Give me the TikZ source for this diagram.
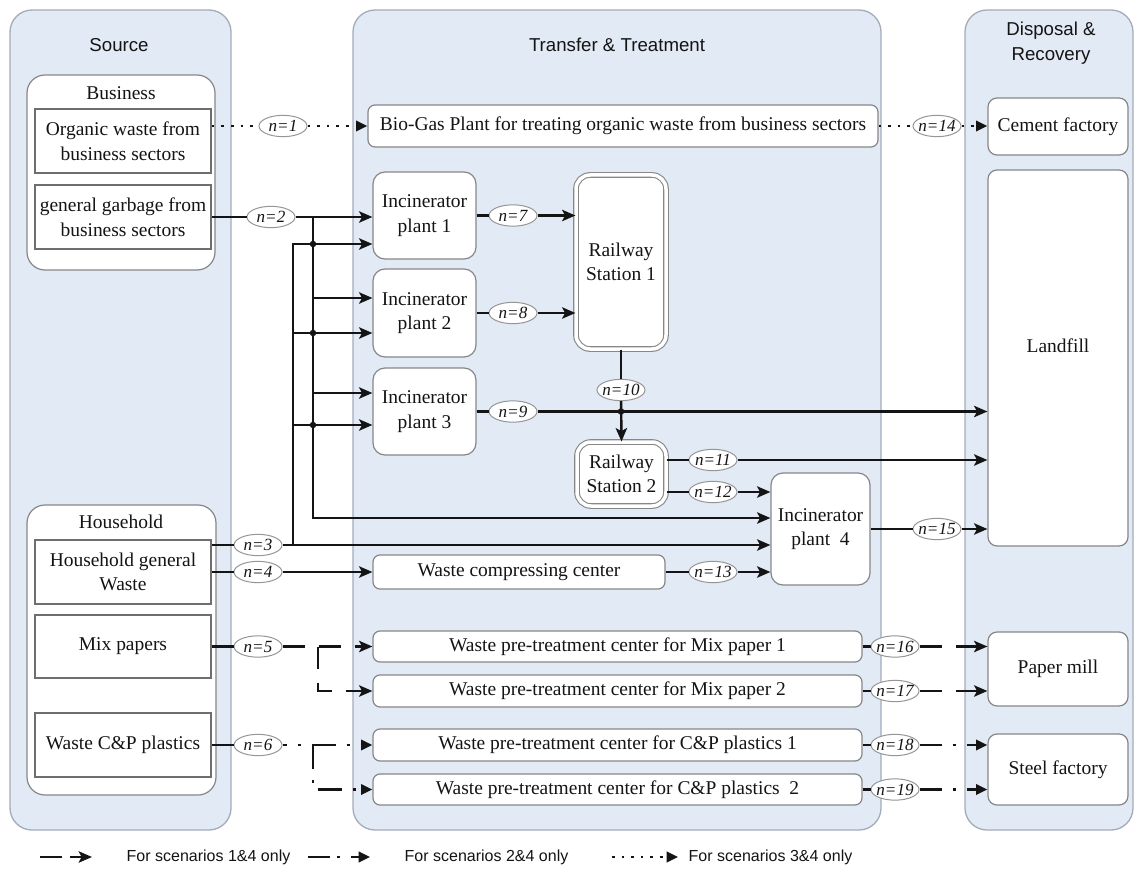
\documentclass[tikz,border=0pt]{standalone}
\usepackage{fontspec}
\setmainfont{Liberation Serif}
\setsansfont{Liberation Sans}
\usetikzlibrary{arrows.meta,shapes.geometric}
\definecolor{panelfill}{RGB}{226,234,246}
\definecolor{panelline}{RGB}{165,172,185}
\definecolor{boxline}{RGB}{135,135,135}
\definecolor{srcline}{RGB}{110,110,110}
\definecolor{tagline}{RGB}{150,150,150}
\definecolor{ink}{RGB}{20,20,20}

\begin{document}
\begin{tikzpicture}[x=0.75pt,y=-0.75pt,
  every node/.style={text=ink},
  % box given by its corners {x1}{y1}{x2}{y2}
  span/.code n args={4}{%
    \pgfmathsetmacro\spanw{(#3-#1)*0.75}%
    \pgfmathsetmacro\spanh{(#4-#2)*0.75}%
    \pgfmathsetmacro\spanx{(#1+#3)/2}%
    \pgfmathsetmacro\spany{(#2+#4)/2}%
    \edef\spanargs{minimum width=\spanw pt, minimum height=\spanh pt, at={(\spanx,\spany)}}%
    \expandafter\tikzset\expandafter{\spanargs}},
  panel/.style={draw=panelline, fill=panelfill, rounded corners=16.5pt, line width=0.975pt, inner sep=0},
  heading/.style={font=\sffamily\fontsize{14pt}{18.75pt}\selectfont, align=center},
  group/.style={draw=boxline, fill=white, rounded corners=13.5pt, line width=0.9pt, inner sep=0},
  grouptitle/.style={font=\fontsize{14.6pt}{18.4pt}\selectfont},
  srcbox/.style={draw=srcline, fill=white, line width=1.2pt, inner sep=0, align=center,
    font=\fontsize{14.6pt}{18.4pt}\selectfont},
  plant/.style={draw=boxline, fill=white, rounded corners=9pt, line width=0.9pt, inner sep=0,
    align=center, font=\fontsize{14.6pt}{18.4pt}\selectfont},
  bar/.style={plant, rounded corners=5.25pt},
  station/.style={plant, double=white, double distance=2.625pt, line width=0.825pt, rounded corners=10.5pt},
  tag/.style={ellipse, draw=tagline, fill=white, line width=0.75pt, inner xsep=-1.5pt, inner ysep=0pt,
    minimum width=36pt, minimum height=16pt, font=\fontsize{12.8pt}{13pt}\selectfont\itshape},
  legendtext/.style={font=\sffamily\fontsize{12pt}{14pt}\selectfont, anchor=west},
  flow/.style={draw=ink, line width=1.8pt},
  tip/.style={-{Stealth[length=10pt,width=8.5pt,inset=2.25pt]}},
  tri/.style={-{Triangle[length=8.5pt,width=7.8pt]}},
  dashA/.style={dash pattern=on 16.5pt off 10.5pt},
  dashB/.style={dash pattern=on 18pt off 8.25pt on 2.25pt off 8.25pt},
  dotC/.style={dash pattern=on 1.95pt off 5.25pt},
  joint/.style={circle, fill=ink, inner sep=0pt, minimum size=4.875pt},
]
\fill[white] (0,0) rectangle (1143,870);
\useasboundingbox (0,0) rectangle (1143,870);

% ---------- three columns ----------
\node[panel, span={10}{10}{231}{830}] (source) {};
\node[panel, span={353}{10}{881}{830}] (transfer) {};
\node[panel, span={965}{10}{1133}{830}] (disposal) {};
\node[heading] (hsource) at (119,45) {Source};
\node[heading] (htransfer) at (617,45) {Transfer \& Treatment};
\node[heading] (hdisposal) at (1051,43) {Disposal \&\\Recovery};

% ---------- sources ----------
\node[group, span={27}{75}{215}{270}] (business) {};
\node[grouptitle] (tbusiness) at (121,93) {Business};
\node[srcbox, span={35}{109}{211}{173}] (organic) {Organic waste from\\business sectors};
\node[srcbox, span={35}{185}{211}{249}] (garbage) {general garbage from\\business sectors};

\node[group, span={27}{505}{216}{795}] (household) {};
\node[grouptitle] (thousehold) at (121,522) {Household};
\node[srcbox, span={35}{540}{211}{604}] (hgw) {Household general\\Waste};
\node[srcbox, span={35}{615}{211}{678}] (mix) {Mix papers};
\node[srcbox, span={35}{713}{211}{777}] (cp) {Waste C\&P plastics};

% ---------- transfer & treatment ----------
\node[bar, span={368}{105}{878}{147}] (biogas) {Bio-Gas Plant for treating organic waste from business sectors};
\node[plant, span={373}{172}{476}{259}] (inc1) {Incinerator\\plant 1};
\node[plant, span={373}{269}{476}{357}] (inc2) {Incinerator\\plant 2};
\node[plant, span={373}{368}{476}{455}] (inc3) {Incinerator\\plant 3};
\node[station, span={576}{175}{666}{349}] (rs1) {Railway\\Station 1};
\node[station, span={577}{442}{666}{506}] (rs2) {Railway\\Station 2};
\node[plant, span={771}{473}{870}{585}] (inc4) {Incinerator\\plant~ 4};
\node[bar, span={373}{555}{665}{589}] (compress) {Waste compressing center};
\node[bar, span={373}{631}{862}{662}] (mp1) {Waste pre-treatment center for Mix paper 1};
\node[bar, span={373}{675}{862}{707}] (mp2) {Waste pre-treatment center for Mix paper 2};
\node[bar, span={373}{729}{862}{761}] (cp1) {Waste pre-treatment center for C\&P plastics 1};
\node[bar, span={373}{774}{862}{805}] (cp2) {Waste pre-treatment center for C\&P plastics~ 2};

% ---------- disposal & recovery ----------
\node[plant, rounded corners=6.75pt, span={988}{98}{1128}{155}] (cement) {Cement factory};
\node[plant, rounded corners=6.75pt, span={988}{170}{1128}{546}] (landfill) {};
\node[font=\fontsize{14.6pt}{18.4pt}\selectfont] (tlandfill) at (1058,346) {Landfill};
\node[plant, rounded corners=6.75pt, span={988}{632}{1128}{706}] (paper) {Paper mill};
\node[plant, rounded corners=6.75pt, span={988}{734}{1128}{805}] (steel) {Steel factory};

% ---------- flow tags ----------
\node[tag] (l1) at (283,126) {n=1};
\node[tag] (l2) at (271,217) {n=2};
\node[tag] (l3) at (258,545) {n=3};
\node[tag] (l4) at (258,572) {n=4};
\node[tag] (l5) at (258,646.5) {n=5};
\node[tag] (l6) at (258,745) {n=6};
\node[tag] (l7) at (513,215.5) {n=7};
\node[tag] (l8) at (513,313) {n=8};
\node[tag] (l9) at (513,411.5) {n=9};
\node[tag] (l10) at (621,390) {n=10};
\node[tag] (l11) at (713,460) {n=11};
\node[tag] (l12) at (713,492) {n=12};
\node[tag] (l13) at (713,572) {n=13};
\node[tag] (l14) at (937,126) {n=14};
\node[tag] (l15) at (937,529) {n=15};
\node[tag] (l16) at (895,646.5) {n=16};
\node[tag] (l17) at (895,691) {n=17};
\node[tag] (l18) at (895,745) {n=18};
\node[tag] (l19) at (895,789.5) {n=19};

% ---------- routing points ----------
\coordinate (k2top) at (313,217);
\coordinate (k2bot) at (313,518);
\coordinate (k3top) at (293,244);
\coordinate (k3bot) at (293,545);
\coordinate (r2b) at (0,298);
\coordinate (r3b) at (0,393);
\coordinate (r2c) at (0,333);
\coordinate (r3c) at (0,425);
\coordinate (k5) at (318,646.5);
\coordinate (k6) at (313,745);

% ---------- organic waste (scenarios 3&4) ----------
\draw[flow,dotC] (organic.east |- biogas.west) -- (l1);
\draw[flow,dotC,tri] (l1) -- (biogas.west);
\draw[flow,dotC] (biogas.east) -- (l14);
\draw[flow,dotC,tri] (l14) -- (cement.west |- l14);

% ---------- general garbage ----------
\draw[flow] (garbage.east |- l2) -- (l2);
\draw[flow,tip] (l2) -- (inc1.west |- l2);
\draw[flow,tip] (k2top) -- (k2bot) -- (inc4.west |- k2bot);
\draw[flow,tip] (k2top |- r2b) -- (inc2.west |- r2b);
\draw[flow,tip] (k2top |- r3b) -- (inc3.west |- r3b);

% ---------- household general waste ----------
\draw[flow] (hgw.east |- l3) -- (l3);
\draw[flow,tip] (l3) -- (inc4.west |- l3);
\draw[flow,tip] (k3bot) -- (k3top) -- (inc1.west |- k3top);
\draw[flow,tip] (k3top |- r2c) -- (inc2.west |- r2c);
\draw[flow,tip] (k3top |- r3c) -- (inc3.west |- r3c);
\node[joint] (j1) at (k2top |- k3top) {};
\node[joint] (j2) at (k2top |- r2c) {};
\node[joint] (j3) at (k2top |- r3c) {};

\draw[flow] (hgw.east |- l4) -- (l4);
\draw[flow,tip] (l4) -- (compress.west |- l4);

% ---------- mix papers (scenarios 1&4) ----------
\draw[flow] (mix.east |- l5) -- (l5);
\draw[flow,dashA,tip] (l5) -- (mp1.west |- l5);
\draw[flow,dashA,tip] (k5) -- (k5 |- mp2.west) -- (mp2.west);

% ---------- C&P plastics (scenarios 2&4) ----------
\draw[flow] (cp.east |- l6) -- (l6);
\draw[flow,dashB,dash phase=15pt,tri] (l6) -- (cp1.west |- l6);
\draw[flow,dashB,tri] (k6) -- (k6 |- cp2.west) -- (cp2.west);

% ---------- incinerators and stations ----------
\draw[flow] (inc1.east |- l7) -- (l7);
\draw[flow,tip] (l7) -- (rs1.west |- l7);
\draw[flow] (inc2.east |- l8) -- (l8);
\draw[flow,tip] (l8) -- (rs1.west |- l8);
\draw[flow] (inc3.east |- l9) -- (l9);
\draw[flow,tip] (l9) -- (landfill.west |- l9);
\draw[flow] (rs1.south) -- (l10);
\draw[flow,tip] (l10) -- (rs2.north);
\node[joint] (j4) at (rs1.south |- l9) {};
\draw[flow] (rs2.east |- l11) -- (l11);
\draw[flow,tip] (l11) -- (landfill.west |- l11);
\draw[flow] (rs2.east |- l12) -- (l12);
\draw[flow,tip] (l12) -- (inc4.west |- l12);
\draw[flow] (compress.east |- l13) -- (l13);
\draw[flow,tip] (l13) -- (inc4.west |- l13);
\draw[flow] (inc4.east |- l15) -- (l15);
\draw[flow,tip] (l15) -- (landfill.west |- l15);

% ---------- recovery ----------
\draw[flow] (mp1.east |- l16) -- (l16);
\draw[flow,dashA,tip] (l16) -- (paper.west |- l16);
\draw[flow] (mp2.east |- l17) -- (l17);
\draw[flow,dashA,tip] (l17) -- (paper.west |- l17);
\draw[flow] (cp1.east |- l18) -- (l18);
\draw[flow,dashB,dash phase=1.5pt,tri] (l18) -- (steel.west |- l18);
\draw[flow] (cp2.east |- l19) -- (l19);
\draw[flow,dashB,dash phase=1.5pt,tri] (l19) -- (steel.west |- l19);

% ---------- legend ----------
\coordinate (a1) at (40,857);
\coordinate (a2) at (62,857);
\coordinate (a3) at (70,857);
\coordinate (a4) at (92,857);
\draw[flow] (a1) -- (a2);
\draw[flow,tip] (a3) -- (a4);
\node[legendtext] (t1) at (122,857) {For scenarios 1\&4 only};
\coordinate (b1) at (308,857);
\coordinate (b2) at (330,857);
\coordinate (b3) at (337,857);
\coordinate (b4) at (340,857);
\coordinate (b5) at (351,857);
\coordinate (b6) at (370,857);
\draw[flow] (b1) -- (b2);
\draw[flow] (b3) -- (b4);
\draw[flow,tri] (b5) -- (b6);
\node[legendtext] (t2) at (400,857) {For scenarios 2\&4 only};
\coordinate (c1) at (612,857);
\coordinate (c2) at (678,857);
\draw[flow,dotC,tri] (c1) -- (c2);
\node[legendtext] (t3) at (684,857) {For scenarios 3\&4 only};
\end{tikzpicture}
\end{document}
